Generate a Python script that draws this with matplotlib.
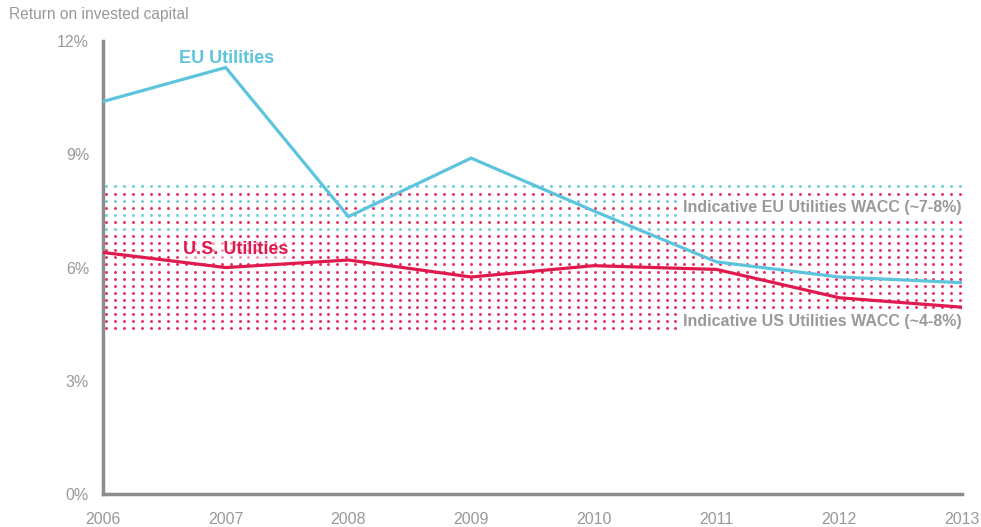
import matplotlib
matplotlib.use("Agg")
import matplotlib.pyplot as plt
import numpy as np

# ── data ────────────────────────────────────────────────────────────────────
years = [2006, 2007, 2008, 2009, 2010, 2011, 2012, 2013]
eu_roic = [10.4, 11.3, 7.35, 8.9, 7.5, 6.15, 5.75, 5.6]
us_roic = [6.4, 6.0, 6.2, 5.75, 6.05, 5.95, 5.2, 4.95]

eu_wacc = (7.0, 8.15)   # dotted band, EU
us_wacc = (4.3, 8.0)    # dotted band, US

yticks = [0, 3, 6, 9, 12]
ytick_labels = ["0%", "3%", "6%", "9%", "12%"]

TEAL = "#5CC5DD"
RED = "#E01A4F"
GREY = "#999999"
SPINE = "#8C8C8C"

plt.rcParams["font.family"] = ["Liberation Sans", "DejaVu Sans"]

fig = plt.figure(figsize=(9.81, 5.27), dpi=100)
ax = fig.add_axes([0.105, 0.0626, 0.8756, 0.8594])

# ── dotted WACC bands ──────────────────────────────────────────────────────
row_step = 0.188
col_step = 0.0725
rows = eu_wacc[1] - row_step * np.arange(21)
cols = np.arange(years[0] + 0.025, years[-1] + 0.02, col_step)
teal_pts, red_pts = [], []
for k, r in enumerate(rows):
    in_eu = r >= eu_wacc[0] - 0.01
    if in_eu and k % 2 == 0:
        teal_pts.append(r)
    elif r <= us_wacc[1] and r >= us_wacc[0]:
        red_pts.append(r)
for pts, c in ((teal_pts, TEAL), (red_pts, RED)):
    X, Y = np.meshgrid(cols, pts)
    ax.scatter(X.ravel(), Y.ravel(), s=4.5, color=c, alpha=0.9,
               linewidths=0, zorder=1)

# ── lines ──────────────────────────────────────────────────────────────────
ax.plot(years, eu_roic, color=TEAL, lw=2.3, zorder=3, solid_joinstyle="miter")
ax.plot(years, us_roic, color=RED, lw=2.3, zorder=3, solid_joinstyle="miter")

ax.text(2006.62, 11.55, "EU Utilities", color=TEAL, fontsize=13,
        fontweight="bold", va="center", zorder=4)
ax.text(2006.65, 6.48, "U.S. Utilities", color=RED, fontsize=13,
        fontweight="bold", va="center", zorder=4,
        bbox=dict(boxstyle="square,pad=0.1", fc="white", ec="none", alpha=0.5))

box = dict(boxstyle="square,pad=0.15", fc="white", ec="none")
ax.text(2013.0, 7.58, "Indicative EU Utilities WACC (~7-8%)", color=GREY,
        fontsize=11.5, fontweight="bold", ha="right", va="center",
        bbox=box, zorder=2)
ax.text(2013.0, 4.58, "Indicative US Utilities WACC (~4-8%)", color=GREY,
        fontsize=11.5, fontweight="bold", ha="right", va="center",
        bbox=box, zorder=2)

# ── axes styling ───────────────────────────────────────────────────────────
ax.set_xlim(years[0], years[-1])
ax.set_ylim(0, 12)
ax.set_xticks(years)
ax.set_xticklabels([str(y) for y in years])
ax.set_yticks(yticks)
ax.set_yticklabels(ytick_labels)
ax.tick_params(length=0, colors=GREY, labelsize=11.5)
ax.tick_params(axis="x", pad=13)
ax.tick_params(axis="y", pad=10)
for s in ("top", "right"):
    ax.spines[s].set_visible(False)
for s in ("left", "bottom"):
    ax.spines[s].set_color(SPINE)
    ax.spines[s].set_linewidth(2.5)

fig.text(0.009, 0.972, "Return on invested capital", color=GREY,
         fontsize=11.2, va="center", ha="left")

fig.savefig("out.png", dpi=100)
